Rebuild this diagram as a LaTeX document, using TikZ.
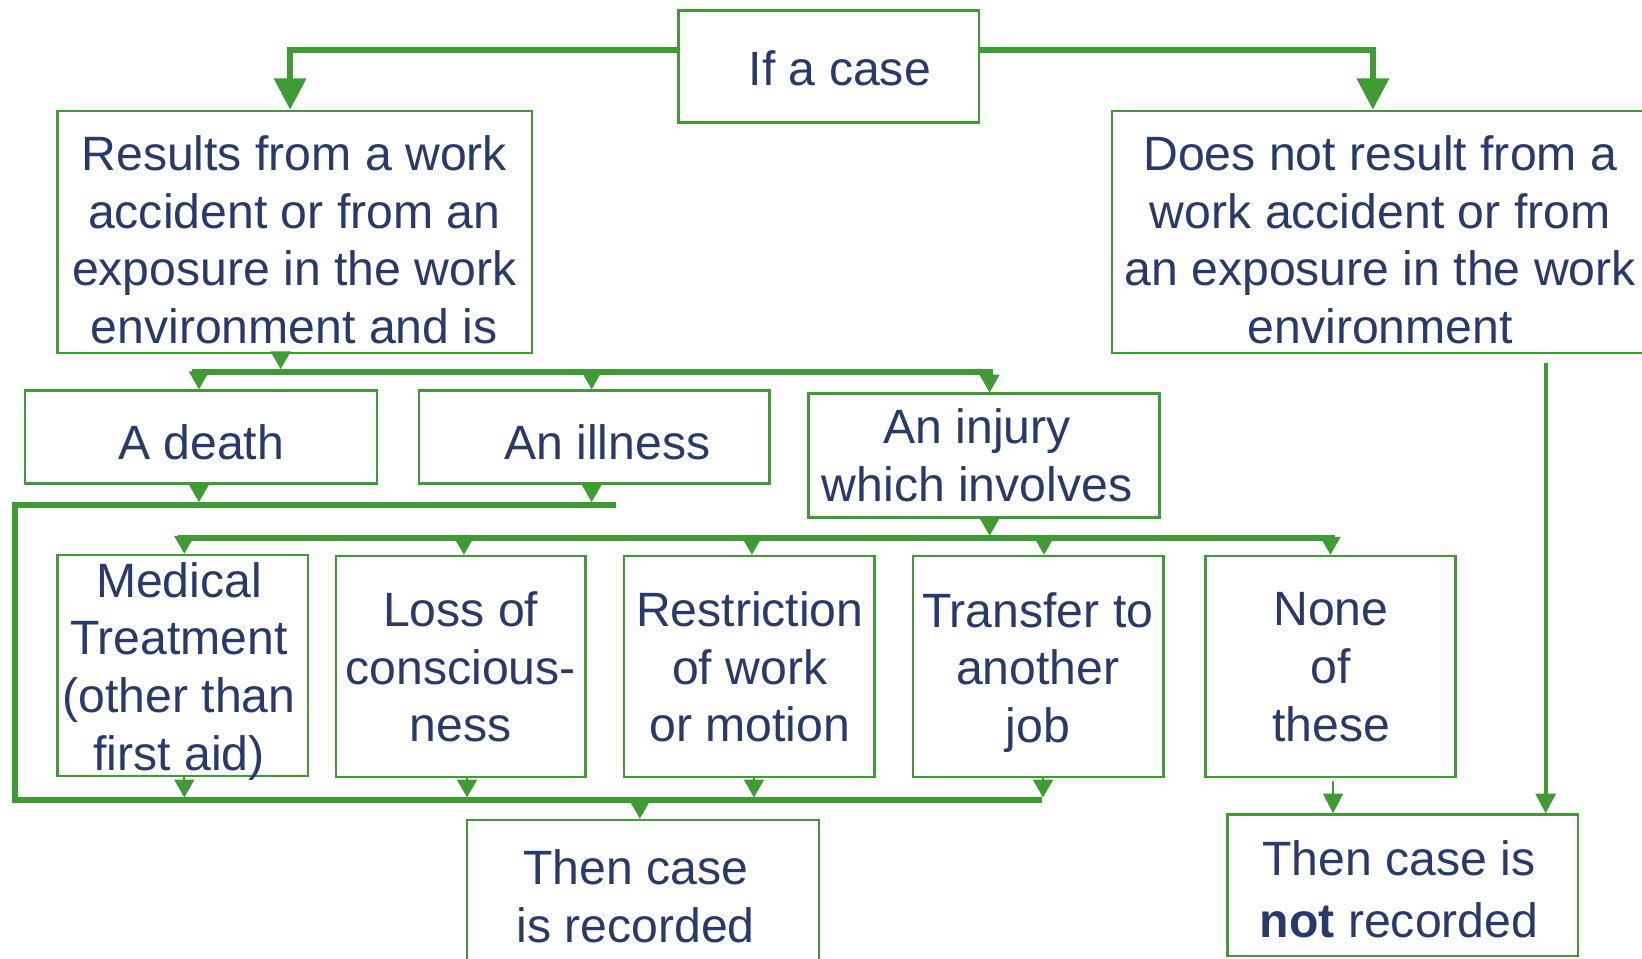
\documentclass[tikz,border=0pt]{standalone}
\usepackage{fontspec}
\setmainfont{Liberation Sans}
\usetikzlibrary{arrows.meta}
\definecolor{grn}{RGB}{63,156,53}
\definecolor{navy}{RGB}{40,58,107}
\begin{document}
\begin{tikzpicture}[x=1pt,y=-1pt,
  box/.style={draw=grn, line width=2.5pt, inner sep=0pt},
  txt/.style={text=navy, align=center, inner sep=0pt, font=\fontsize{46}{55}\selectfont},
  barline/.style={draw=grn, line width=5.5pt},
  bigarrow/.style={draw=grn, line width=5.5pt, -{Triangle[length=30pt,width=30pt]}},
  smallarrow/.style={draw=grn, line width=2pt, -{Triangle[length=17pt,width=19pt]}},
  longarrow/.style={draw=grn, line width=3.5pt, -{Triangle[length=19pt,width=19pt]}},
  thinarrow/.style={draw=grn, line width=1.8pt, -{Triangle[length=19pt,width=19pt]}}]
\useasboundingbox (0,0) rectangle (1568,915);
\fill[white] (0,0) rectangle (1568,915);
\clip (0,0) rectangle (1568,915);

% boxes
\node[box, minimum width=287pt, minimum height=107pt] (ifcase) at (791.5,63.5) {};
\node[box, minimum width=453pt, minimum height=231pt] (res) at (281.5,221.5) {};
\node[box, minimum width=518pt, minimum height=231pt] (notres) at (1321,221.5) {};
\node[box, minimum width=336pt, minimum height=89pt] (death) at (192,417.5) {};
\node[box, minimum width=335pt, minimum height=89pt] (illness) at (567.5,417.5) {};
\node[box, minimum width=335pt, minimum height=118pt] (injury) at (939.5,435) {};
\node[box, minimum width=239pt, minimum height=211pt] (med) at (174.5,635.5) {};
\node[box, minimum width=238pt, minimum height=211pt] (loss) at (440,636.5) {};
\node[box, minimum width=239pt, minimum height=211pt] (restr) at (715.5,636.5) {};
\node[box, minimum width=239pt, minimum height=211pt] (transfer) at (991.5,636.5) {};
\node[box, minimum width=239pt, minimum height=211pt] (none) at (1270.5,636.5) {};
\node[box, minimum width=336pt, minimum height=147pt] (rec) at (614,856.5) {};
\node[box, minimum width=335pt, minimum height=135pt] (notrec) at (1339.5,845.5) {};

% texts
\node[txt] (tifcase) at (802,65) {If a case};
\node[txt] (tres) at (281,229) {Results from a work\\accident or from an\\exposure in the work\\environment and is};
\node[txt] (tnotres) at (1318,229) {Does not result from a\\work accident or from\\an exposure in the work\\environment};
\node[txt] (tdeath) at (192,422) {A death};
\node[txt] (tillness) at (580,422) {An illness};
\node[txt] (tinjury) at (933,435) {An injury\\which involves};
\node[txt] (tmed) at (171,641) {Medical\\Treatment\\(other than\\first aid)};
\node[txt] (tloss) at (440,637) {Loss of\\conscious-\\ness};
\node[txt] (trestr) at (716,637) {Restriction\\of work\\or motion};
\node[txt] (ttransfer) at (991,642) {Transfer to\\another\\job};
\node[txt] (tnone) at (1271,637) {None\\of\\these};
\node[txt] (trec) at (607,856) {Then case\\is recorded};
\node[txt] (tnotrec) at (1336,849) {Then case is\\[4pt]\textbf{not} recorded};

% bar coordinates
\coordinate (b1L) at (183,355);
\coordinate (b1R) at (948,355);
\coordinate (b2R) at (588,482);
\coordinate (b2L) at (14,482);
\coordinate (b3L) at (14,764);
\coordinate (b3R) at (995,764);
\coordinate (b4L) at (170,514);
\coordinate (b4R) at (1275,514);
\coordinate (nr) at (1476,347);

% top connectors
\draw[bigarrow] ([yshift=15.5pt]ifcase.west) -| ([xshift=-4.5pt]res.north);
\draw[bigarrow] ([yshift=15.5pt]ifcase.east) -| ([xshift=-10pt]notres.north);

% bar 1
\draw[barline] (b1L) -- (b1R);
\draw[smallarrow, shorten >=2.5pt] ([xshift=-13.5pt]res.south) -- ([xshift=-13.5pt]res.south |- b1L);
\draw[smallarrow] ([xshift=-2pt]death.north |- b1L) -- ([xshift=-2pt]death.north);
\draw[smallarrow] ([xshift=-2.5pt]illness.north |- b1L) -- ([xshift=-2.5pt]illness.north);
\draw[smallarrow] ([xshift=5.5pt]injury.north |- b1L) -- ([xshift=5.5pt]injury.north);

% bar 2 / left side / bar 3
\draw[barline] (b2R) -- (b2L) -- (b3L) -- (b3R);
\draw[smallarrow, shorten >=2.5pt] ([xshift=-2pt]death.south) -- ([xshift=-2pt]death.south |- b2L);
\draw[smallarrow, shorten >=2.5pt] ([xshift=-2.5pt]illness.south) -- ([xshift=-2.5pt]illness.south |- b2L);

% bar 4
\draw[barline] (b4L) -- (b4R);
\draw[smallarrow, shorten >=2.5pt] ([xshift=5.5pt]injury.south) -- ([xshift=5.5pt]injury.south |- b4L);
\draw[smallarrow] ([xshift=1.5pt]med.north |- b4L) -- ([xshift=1.5pt]med.north);
\draw[smallarrow] ([xshift=3pt]loss.north |- b4L) -- ([xshift=3pt]loss.north);
\draw[smallarrow] ([xshift=2.5pt]restr.north |- b4L) -- ([xshift=2.5pt]restr.north);
\draw[smallarrow] ([xshift=5.5pt]transfer.north |- b4L) -- ([xshift=5.5pt]transfer.north);
\draw[smallarrow] (none.north |- b4L) -- (none.north);

% into bar 3
\draw[smallarrow, shorten >=2.5pt] ([xshift=1.5pt]med.south) -- ([xshift=1.5pt]med.south |- b3L);
\draw[smallarrow, shorten >=2.5pt] ([xshift=6pt]loss.south) -- ([xshift=6pt]loss.south |- b3L);
\draw[smallarrow, shorten >=2.5pt] ([xshift=4.5pt]restr.south) -- ([xshift=4.5pt]restr.south |- b3L);
\draw[smallarrow, shorten >=2.5pt] ([xshift=4.5pt]transfer.south) -- ([xshift=4.5pt]transfer.south |- b3L);
\draw[smallarrow] ([xshift=-3pt]rec.north |- b3L) -- ([xshift=-3pt]rec.north);

% not recorded
\draw[thinarrow] ([xshift=2.5pt,yshift=-3pt]none.south) -- ([xshift=2.5pt]none.south |- notrec.north);
\draw[longarrow] (nr) -- (nr |- notrec.north);
\end{tikzpicture}
\end{document}
